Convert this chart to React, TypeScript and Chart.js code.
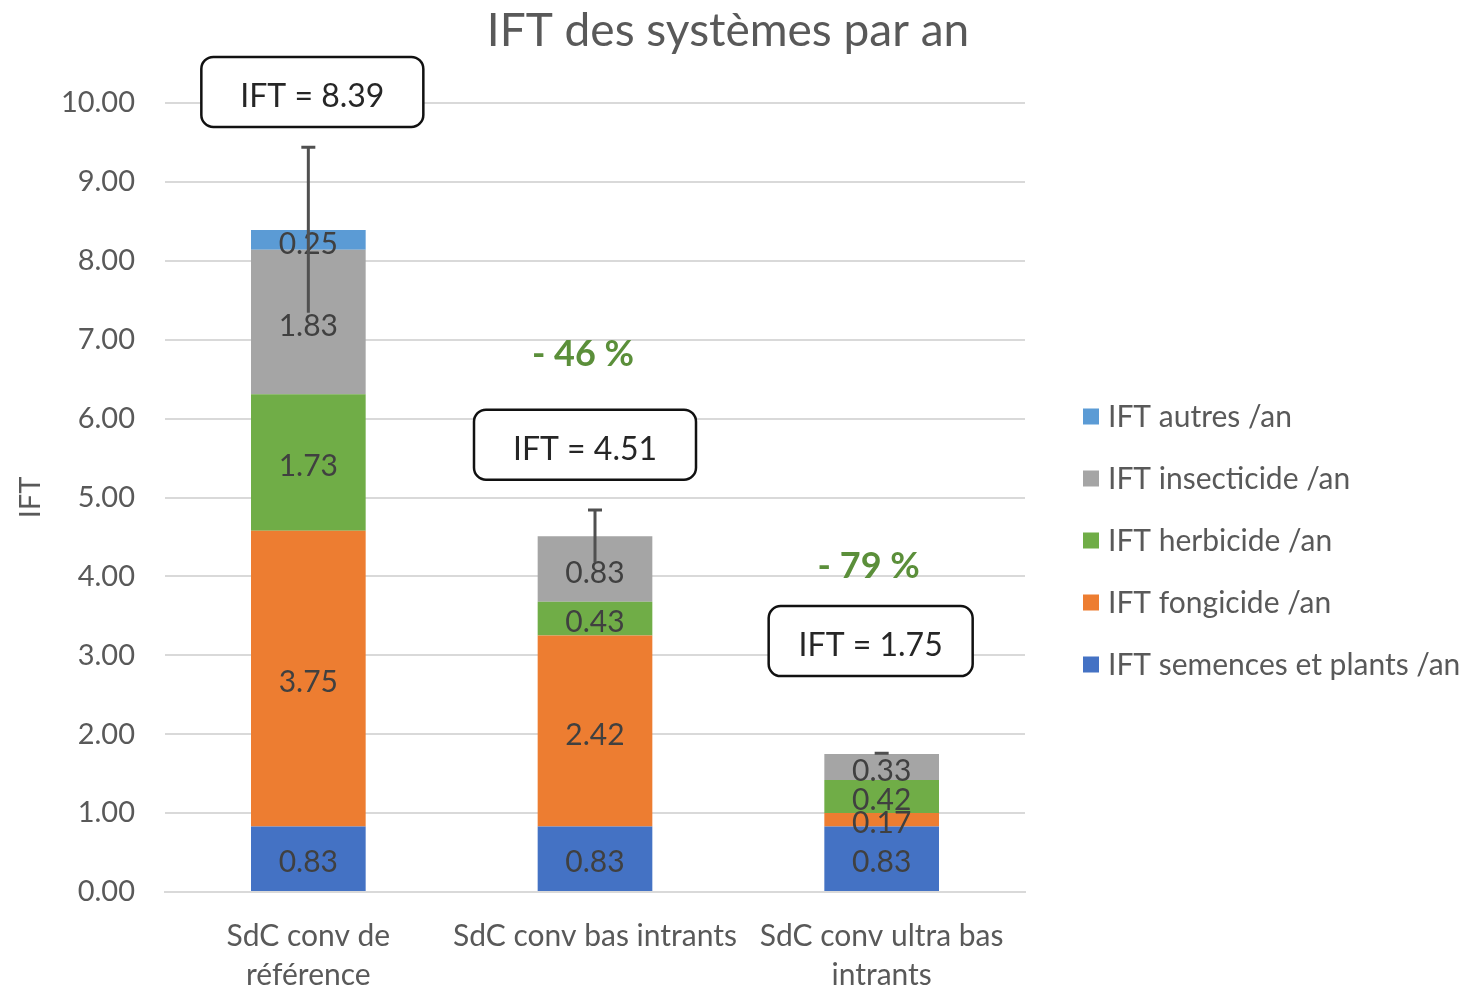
import React, { useEffect, useRef } from "react";
import { Chart, registerables } from "chart.js";

Chart.register(...registerables);

const categories: (string | string[])[] = [
  ["SdC conv de", "référence"],
  "SdC conv bas intrants",
  ["SdC conv ultra bas", "intrants"],
];
const semences = [0.83, 0.83, 0.83];
const fongicide = [3.75, 2.42, 0.17];
const herbicide = [1.73, 0.43, 0.42];
const insecticide = [1.83, 0.83, 0.33];
const autres = [0.25, 0, 0];
const errorBars = [1.05, 0.33, 0.01];
const totalLabels = ["IFT = 8.39", "IFT = 4.51", "IFT = 1.75"];
const totalLabelY = [10.14, 5.67, 3.18];
const reductionLabels = ["", "- 46 %", "- 79 %"];
const reductionY = [0, 6.82, 4.13];
const yTicks = [0, 1, 2, 3, 4, 5, 6, 7, 8, 9, 10];
const chartTitle = "IFT des systèmes par an";

const FONT = "Lato, 'Noto Sans', sans-serif";
const GREY_TEXT = "#595959";

const seriesDefs = [
  { label: "IFT semences et plants /an", data: semences, color: "#4472C4" },
  { label: "IFT fongicide /an", data: fongicide, color: "#ED7D31" },
  { label: "IFT herbicide /an", data: herbicide, color: "#70AD47" },
  { label: "IFT insecticide /an", data: insecticide, color: "#A5A5A5" },
  { label: "IFT autres /an", data: autres, color: "#5B9BD5" },
];

const boxOffsetX = [4, -10, -11];
const boxWidths = [222, 222, 204];
const reductionOffsetX = [0, -12, -13];

const overlay = {
  id: "overlay",
  afterDatasetsDraw(chart: any) {
    const ctx: CanvasRenderingContext2D = chart.ctx;
    const xs = chart.scales.x;
    const ys = chart.scales.y;
    const area = chart.chartArea;
    ctx.save();
    // title
    ctx.font = `46px ${FONT}`;
    ctx.fillStyle = GREY_TEXT;
    ctx.textAlign = "center";
    ctx.textBaseline = "middle";
    ctx.fillText(chartTitle, 728, 31);
    // data labels
    ctx.font = `30px ${FONT}`;
    ctx.fillStyle = "#404040";
    chart.data.datasets.forEach((ds: any, i: number) => {
      const meta = chart.getDatasetMeta(i);
      meta.data.forEach((el: any, j: number) => {
        const v = ds.data[j];
        if (!v) return;
        const p = el.getProps(["x", "y", "base"], true);
        ctx.fillText(v.toFixed(2), p.x, (p.y + p.base) / 2 + 4);
      });
    });
    // error bars
    const totals = categories.map((_, j) =>
      seriesDefs.reduce((s, d) => s + d.data[j], 0)
    );
    ctx.strokeStyle = "#505050";
    ctx.lineWidth = 3;
    totals.forEach((t, j) => {
      const cx = xs.getPixelForValue(j);
      const yTop = ys.getPixelForValue(t + errorBars[j]);
      const yBot = ys.getPixelForValue(t - errorBars[j]);
      ctx.beginPath();
      ctx.moveTo(cx, yTop);
      ctx.lineTo(cx, yBot);
      ctx.moveTo(cx - 7, yTop);
      ctx.lineTo(cx + 7, yTop);
      ctx.stroke();
    });
    // total boxes
    ctx.font = `32px ${FONT}`;
    totalLabels.forEach((txt, j) => {
      const cx = xs.getPixelForValue(j) + boxOffsetX[j];
      const cy = ys.getPixelForValue(totalLabelY[j]);
      const w = boxWidths[j];
      const h = 70;
      ctx.beginPath();
      (ctx as any).roundRect(cx - w / 2, cy - h / 2, w, h, 12);
      ctx.fillStyle = "#ffffff";
      ctx.fill();
      ctx.strokeStyle = "#111111";
      ctx.lineWidth = 2.5;
      ctx.stroke();
      ctx.fillStyle = "#262626";
      ctx.fillText(txt, cx, cy + 5);
    });
    // reductions
    ctx.font = `bold 36px ${FONT}`;
    ctx.fillStyle = "#5b8f3a";
    reductionLabels.forEach((txt, j) => {
      if (!txt) return;
      const cx = xs.getPixelForValue(j) + reductionOffsetX[j];
      const cy = ys.getPixelForValue(reductionY[j]);
      ctx.fillText(txt, cx, cy);
    });
    // legend
    ctx.font = `30px ${FONT}`;
    ctx.textAlign = "left";
    const legendX = area.right + 58;
    const rev = [...seriesDefs].reverse();
    const step = 62;
    const legendTop = (area.top + area.bottom) / 2 + 43 - (step * (rev.length - 1)) / 2;
    rev.forEach((d, k) => {
      const cy = legendTop + k * step;
      ctx.fillStyle = d.color;
      ctx.fillRect(legendX, cy - 8, 16, 16);
      ctx.fillStyle = GREY_TEXT;
      ctx.fillText(d.label, legendX + 25, cy + 1);
    });
    ctx.restore();
  },
};

export default function App() {
  const ref = useRef<HTMLCanvasElement>(null);
  useEffect(() => {
    document.body.style.margin = "0";
    const chart = new Chart(ref.current!, {
      type: "bar",
      data: {
        labels: categories,
        datasets: seriesDefs.map((d) => ({
          label: d.label,
          data: d.data,
          backgroundColor: d.color,
          borderWidth: 0,
          barPercentage: 1,
          categoryPercentage: 0.4,
        })),
      },
      options: {
        animation: false,
        responsive: false,
        layout: { padding: { left: 0, right: 445, top: 103, bottom: 0 } },
        plugins: {
          legend: { display: false },
          tooltip: { enabled: false },
          title: { display: false },
        },
        scales: {
          x: {
            stacked: true,
            grid: { display: false, drawTicks: false },
            border: { display: true, color: "#d9d9d9", width: 2 },
            ticks: {
              color: GREY_TEXT,
              font: { family: FONT, size: 30, lineHeight: 1.3 },
              padding: 25,
              maxRotation: 0,
              autoSkip: false,
            },
            afterFit(scale: any) {
              scale.height = 97;
            },
          },
          y: {
            stacked: true,
            min: 0,
            max: 10,
            afterBuildTicks(scale: any) {
              scale.ticks = yTicks.map((v) => ({ value: v }));
            },
            grid: { color: "#d9d9d9", lineWidth: 2, drawTicks: false },
            border: { display: false },
            ticks: {
              color: GREY_TEXT,
              font: { family: FONT, size: 29 },
              padding: 30,
              callback: (v: any) => Number(v).toFixed(2),
            },
            title: {
              display: true,
              text: "IFT",
              color: GREY_TEXT,
              font: { family: FONT, size: 29 },
              padding: { top: 13, bottom: 0 },
            },
            afterFit(scale: any) {
              scale.width = 165;
            },
          },
        },
      },
      plugins: [overlay],
    });
    return () => chart.destroy();
  }, []);
  return (
    <div style={{ width: 1470, height: 989 }}>
      <canvas ref={ref} width={1470} height={989} />
    </div>
  );
}
